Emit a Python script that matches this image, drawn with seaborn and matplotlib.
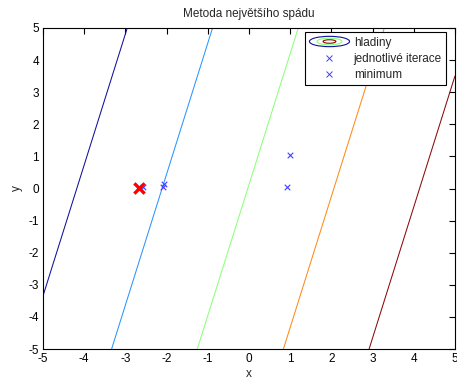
import numpy as np
import pandas as pd
import matplotlib
matplotlib.use("Agg")
import matplotlib.pyplot as plt
import seaborn as sns
from matplotlib.patches import Ellipse
from matplotlib.legend_handler import HandlerBase
from matplotlib.lines import Line2D

# ---- data ----
title = "Metoda největšího spádu"
# contour function f(x, y) = x + slope_y * y, levels
slope_y = -0.245
levels = [-4.18, -2.11, -0.03, 2.06, 4.14]
level_colors = ["#10109a", "#2a95ff", "#8cff7a", "#ff8a1a", "#8a0a0a"]
iter_x = [1.0, 0.93, -2.06, -2.08, -2.57]
iter_y = [1.03, 0.04, 0.14, 0.05, 0.04]
min_x = [-2.68]
min_y = [0.03]
xticks = list(range(-5, 6))
yticks = list(range(-5, 6))
legend_labels = ["hladiny", "jednotlivé iterace", "minimum"]

sns.set_style("white")
plt.rcParams["font.family"] = ["Liberation Sans", "DejaVu Sans"]
plt.rcParams["font.size"] = 8.5
plt.rcParams["axes.unicode_minus"] = False

fig = plt.figure(figsize=(4.57, 3.83), dpi=100)
ax = fig.add_axes([43 / 457, 34 / 383, 412 / 457, 321 / 383])

gx = np.linspace(-5, 5, 201)
gy = np.linspace(-5, 5, 201)
X, Y = np.meshgrid(gx, gy)
Z = X + slope_y * Y
ax.contour(X, Y, Z, levels=levels, colors=level_colors, linewidths=0.75)

df_it = pd.DataFrame({"x": iter_x, "y": iter_y})
df_min = pd.DataFrame({"x": min_x, "y": min_y})
sns.scatterplot(data=df_it, x="x", y="y", marker="x", color="#4040ff",
                s=16, linewidth=0.8, ax=ax, zorder=3)
sns.scatterplot(data=df_min, x="x", y="y", marker="x", color="#ff0000",
                s=55, linewidth=2.4, ax=ax, zorder=4)

ax.set_xlim(-5, 5)
ax.set_ylim(-5, 5)
ax.set_xticks(xticks)
ax.set_yticks(yticks)
ax.tick_params(direction="in", length=4, width=0.8, top=True, right=True,
               labelsize=8.5, colors="black", pad=3)
for s in ax.spines.values():
    s.set_color("black")
    s.set_linewidth(0.8)
    s.set_visible(True)
ax.set_xlabel("x", fontsize=8.5, labelpad=2)
ax.set_ylabel("y", fontsize=8.5, labelpad=4)
ax.set_title(title, fontsize=8.5, pad=8)


class ContourHandler(HandlerBase):
    def create_artists(self, legend, orig_handle, xdescent, ydescent,
                       width, height, fontsize, trans):
        cx = width / 2 - xdescent
        cy = height / 2 - ydescent
        arts = []
        for w, h, c in [(width, height * 1.25, level_colors[0]),
                        (width * 0.62, height * 0.8, level_colors[2]),
                        (width * 0.32, height * 0.42, level_colors[4])]:
            e = Ellipse((cx, cy), w, h, fill=False, edgecolor=c, lw=0.8,
                        transform=trans)
            arts.append(e)
        return arts


contour_proxy = Line2D([], [])
it_proxy = Line2D([], [], ls="none", marker="x", color="#4040ff", ms=4, mew=0.7)
min_proxy = Line2D([], [], ls="none", marker="x", color="#4040ff", ms=4, mew=0.7)
leg = ax.legend([contour_proxy, it_proxy, min_proxy], legend_labels,
                handler_map={contour_proxy: ContourHandler()},
                loc="upper right", bbox_to_anchor=(0.978, 0.986),
                fontsize=8.5, frameon=True, fancybox=False, framealpha=1,
                edgecolor="black", handlelength=3.4, handletextpad=0.35,
                borderpad=0.35, labelspacing=0.35, borderaxespad=0.0)
leg.get_frame().set_linewidth(0.8)

fig.savefig("out.png", dpi=100)
